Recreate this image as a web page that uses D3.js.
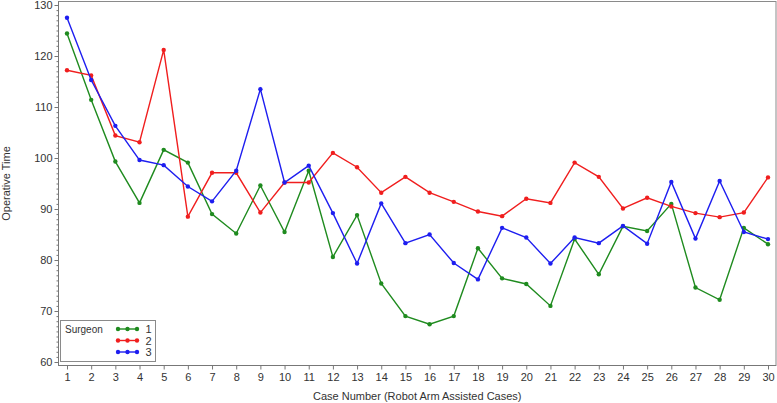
<!DOCTYPE html>
<html>
<head>
<meta charset="utf-8">
<script src="https://cdn.jsdelivr.net/npm/d3@7"></script>
<style>
  body { margin: 0; background: #fff; }
  svg { font-family: "Liberation Sans", Arial, sans-serif; }
</style>
</head>
<body>
<svg id="chart"></svg>
<script>
const w = 777,
h = 403;

// data
const cases = d3.range(1, 31);
const surgeon1 = [124.4, 111.4, 99.3, 91.2, 101.6, 99.1, 89.0, 85.2, 94.6, 85.5,
  97.5, 80.6, 88.8, 75.4, 69.0, 67.4, 69.0, 82.3, 76.4, 75.3,
  71.0, 84.1, 77.2, 86.6, 85.7, 91.0, 74.6, 72.2, 86.3, 83.1];
const surgeon2 = [117.2, 116.2, 104.4, 103.1, 121.2, 88.5, 97.1, 97.1, 89.3, 95.2,
  95.2, 101.0, 98.2, 93.2, 96.3, 93.2, 91.4, 89.5, 88.6, 92.0,
  91.2, 99.1, 96.3, 90.1, 92.2, 90.5, 89.2, 88.4, 89.3, 96.2];
const surgeon3 = [127.5, 115.3, 106.3, 99.6, 98.6, 94.4, 91.5, 97.5, 113.5, 95.2,
  98.5, 89.2, 79.3, 91.1, 83.3, 85.0, 79.4, 76.2, 86.3, 84.4,
  79.3, 84.4, 83.3, 86.7, 83.2, 95.3, 84.2, 95.5, 85.5, 84.1];
const series = [
  { name: "1", values: surgeon1, color: "#1f8b1f" },
  { name: "2", values: surgeon2, color: "#f01e1e" },
  { name: "3", values: surgeon3, color: "#1e1ef0" }
];
const yTicks = [60, 70, 80, 90, 100, 110, 120, 130];

const plot = { left: 58.5, top: 1.5, right: 776, bottom: 365.5 };

const svg = d3.select("#chart")
  .attr("width", w)
  .attr("height", h);

const x = d3.scaleLinear().domain([1, 30]).range([67, 768]);
const y = d3.scaleLinear().domain([60, 130]).range([362, 5]);

// frame
svg.append("rect")
  .attr("x", plot.left)
  .attr("y", plot.top)
  .attr("width", plot.right - plot.left)
  .attr("height", plot.bottom - plot.top)
  .attr("fill", "none")
  .attr("stroke", "#8a8a8a")
  .attr("stroke-width", 1);

// y axis with minor ticks
const yMinor = svg.append("g")
  .attr("transform", `translate(${plot.left},0)`)
  .call(d3.axisLeft(y).tickValues(d3.range(60, 131, 1)).tickSize(2).tickFormat(""));
yMinor.select(".domain").remove();
yMinor.selectAll("line").attr("stroke", "#777");

const yAxis = svg.append("g")
  .attr("transform", `translate(${plot.left},0)`)
  .call(d3.axisLeft(y).tickValues(yTicks).tickSize(4).tickPadding(2));
yAxis.select(".domain").attr("stroke", "#777").attr("d", `M0,${plot.top}V${plot.bottom}`);
yAxis.selectAll("line").attr("stroke", "#777");
yAxis.selectAll("text").attr("font-size", 11).attr("fill", "#333")
  .attr("font-family", "Liberation Sans, Arial, sans-serif");

const xAxis = svg.append("g")
  .attr("transform", `translate(0,${plot.bottom})`)
  .call(d3.axisBottom(x).tickValues(cases).tickSize(4).tickPadding(4).tickFormat(d3.format("d")));
xAxis.select(".domain").attr("stroke", "#777").attr("d", `M${plot.left},0H${plot.right}`);
xAxis.selectAll("line").attr("stroke", "#777");
xAxis.selectAll("text").attr("font-size", 11).attr("fill", "#333")
  .attr("font-family", "Liberation Sans, Arial, sans-serif");

// axis titles
svg.append("text")
  .attr("x", (plot.left + plot.right) / 2)
  .attr("y", 400)
  .attr("text-anchor", "middle")
  .attr("font-size", 11)
  .attr("fill", "#333")
  .text("Case Number (Robot Arm Assisted Cases)");

svg.append("text")
  .attr("transform", `translate(10,${(plot.top + plot.bottom) / 2}) rotate(-90)`)
  .attr("text-anchor", "middle")
  .attr("font-size", 11)
  .attr("fill", "#333")
  .text("Operative Time");

// lines and markers
const line = d3.line()
  .x((d, i) => x(cases[i]))
  .y(d => y(d));

series.forEach(s => {
  svg.append("path")
    .datum(s.values)
    .attr("d", line)
    .attr("fill", "none")
    .attr("stroke", s.color)
    .attr("stroke-width", 1.4);

  svg.selectAll(null)
    .data(s.values)
    .enter()
    .append("circle")
      .attr("cx", (d, i) => x(cases[i]))
      .attr("cy", d => y(d))
      .attr("r", 2.2)
      .attr("fill", s.color);
});

// legend
const lg = svg.append("g");
lg.append("rect")
  .attr("x", 60.5).attr("y", 320.5)
  .attr("width", 95).attr("height", 41)
  .attr("fill", "#fff")
  .attr("stroke", "#8a8a8a");
lg.append("text")
  .attr("x", 65).attr("y", 333)
  .attr("font-size", 10).attr("fill", "#333")
  .text("Surgeon");

series.forEach((s, i) => {
  const ly = 329 + i * 11.5;
  lg.append("line")
    .attr("x1", 118).attr("x2", 137)
    .attr("y1", ly).attr("y2", ly)
    .attr("stroke", s.color).attr("stroke-width", 1.4);
  [118, 127.5, 137].forEach(cx => {
    lg.append("circle").attr("cx", cx).attr("cy", ly).attr("r", 2.2).attr("fill", s.color);
  });
  lg.append("text")
    .attr("x", 145.5).attr("y", ly + 4)
    .attr("font-size", 11).attr("fill", "#333")
    .text(s.name);
});
</script>
</body>
</html>
